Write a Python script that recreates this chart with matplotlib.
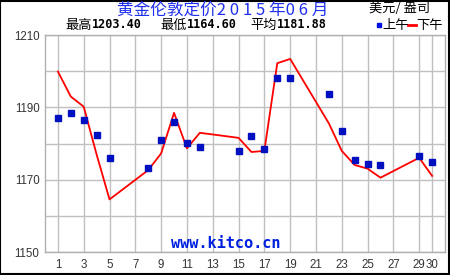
import matplotlib
matplotlib.use("Agg")
import matplotlib.pyplot as plt
import numpy as np

am_days = [1, 2, 3, 4, 5, 8, 9, 10, 11, 12, 15, 16, 17, 18, 19, 22, 23, 24, 25, 26, 29, 30]
am_vals = [1187.2, 1188.6, 1186.4, 1182.3, 1175.9, 1173.4, 1180.9, 1185.9, 1180.3, 1179.2,
           1178.1, 1182.0, 1178.4, 1198.0, 1198.0, 1193.6, 1183.4, 1175.6, 1174.5, 1174.2,
           1176.5, 1174.8]
pm_days = [1, 2, 3, 4, 5, 8, 9, 10, 11, 12, 15, 16, 17, 18, 19, 22, 23, 24, 25, 26, 29, 30]
pm_vals = [1199.9, 1193.0, 1190.2, 1177.0, 1164.6, 1172.7, 1177.3, 1188.5, 1178.7, 1183.0,
           1181.6, 1177.7, 1178.0, 1202.2, 1203.4, 1185.6, 1178.0, 1174.1, 1173.1, 1170.6,
           1176.1, 1171.1]
x_ticks = [1, 3, 5, 7, 9, 11, 13, 15, 17, 19, 21, 23, 25, 27, 29, 30]
y_grid = [1150, 1160, 1170, 1180, 1190, 1200, 1210]
y_labels = {1150: "1150", 1170: "1170", 1190: "1190", 1210: "1210"}

title = "黄金伦敦定价2 0 1 5 年0 6 月"
unit = "美元/ 盎司"
stats = [("最高", "1203.40"), ("最低", "1164.60"), ("平均", "1181.88")]

CJK = ["Noto Sans CJK SC", "DejaVu Sans"]

fig = plt.figure(figsize=(4.5, 2.75), dpi=100)
fig.patch.set_facecolor("white")
fig.add_artist(plt.Rectangle((0.001, 0.002), 0.997, 0.995, transform=fig.transFigure,
                             fill=False, edgecolor="black", linewidth=1.5))

ax = fig.add_axes([45/450, (275-252.3)/275, 400/450, (252.3-35)/275])
ax.set_xlim(0, 31)
ax.set_ylim(1150, 1210)
ax.set_xticks(x_ticks)
ax.set_xticklabels([str(t) for t in x_ticks])
ax.set_yticks(y_grid)
ax.set_yticklabels([y_labels.get(v, "") for v in y_grid])
ax.grid(True, color="#c0c0c0", linewidth=1.0)
ax.set_axisbelow(True)
for s in ax.spines.values():
    s.set_color("#b0b0b0")
    s.set_linewidth(1.0)
ax.tick_params(length=0, labelsize=8.3, colors="#333333")
for lab in ax.get_xticklabels() + ax.get_yticklabels():
    lab.set_family("Liberation Sans")
ax.tick_params(axis="x", pad=5)
ax.tick_params(axis="y", pad=4)

ax.plot(pm_days, pm_vals, color="red", linewidth=1.3, zorder=3)
ax.plot(am_days, am_vals, linestyle="none", marker="s", markersize=4.3,
        color="#0010c0", zorder=4)

ax.text((225.5 - 45) / 400, 0.008, "www.kitco.cn", transform=ax.transAxes, ha="center",
        va="bottom", family="DejaVu Sans Mono", fontweight="bold", fontsize=11,
        color="#0020e0")

fig.text(223/450, 1 - 10/275, title, ha="center", va="center", family=CJK,
         fontsize=12, color="#2030f0")
fig.text(400/450, 1 - 9/275, unit, ha="center", va="center", family=CJK,
         fontsize=9.5, color="black")

xs = [65, 160, 250]
for (lab, val), x0 in zip(stats, xs):
    fig.text(x0/450, 1 - 25/275, lab, ha="left", va="center", family=CJK,
             fontsize=9.5, color="black")
    fig.text((x0 + 27)/450, 1 - 25/275, val, ha="left", va="center",
             family="DejaVu Sans Mono", fontweight="bold", fontsize=8.5, color="black")

fig.add_artist(plt.Rectangle((377/450, 1 - 27/275), 4/450, 4/275, transform=fig.transFigure,
                             color="#0010e0"))
fig.text(382/450, 1 - 25/275, "上午", ha="left", va="center", family=CJK,
         fontsize=9.5, color="black")
fig.add_artist(plt.Line2D([408/450, 416/450], [1 - 25/275, 1 - 25/275],
                          transform=fig.transFigure, color="red", linewidth=2))
fig.text(416/450, 1 - 25/275, "下午", ha="left", va="center", family=CJK,
         fontsize=9.5, color="black")

fig.savefig("out.png", dpi=100, facecolor="white")
